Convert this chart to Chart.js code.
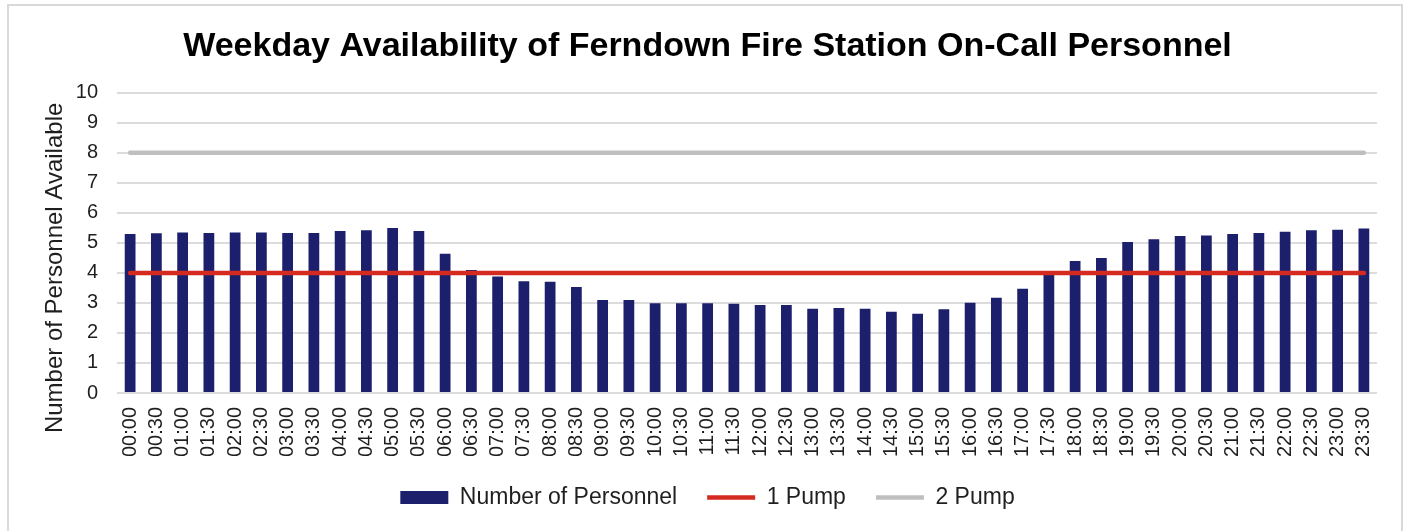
<!DOCTYPE html>
<html>
<head>
<meta charset="utf-8">
<script src="https://cdn.jsdelivr.net/npm/chart.js@4"></script>
<style>
html, body { margin: 0; padding: 0; background: #ffffff; }
#wrap { position: relative; width: 1408px; height: 531px; overflow: hidden; background: #ffffff; }
#frame { position: absolute; left: 7px; top: 4px; width: 1392px; height: 580px; border: 2px solid #D9D9D9; pointer-events: none; }
canvas { position: absolute; left: 0; top: 0; }
</style>
</head>
<body>
<div id="wrap"><canvas id="c" width="1408" height="531"></canvas><div id="frame"></div></div>
<script>
const chartTitle = 'Weekday Availability of Ferndown Fire Station On-Call Personnel';
const yAxisTitle = 'Number of Personnel Available';
const seriesNames = ['Number of Personnel', '1 Pump', '2 Pump'];

const timeLabels = ['00:00','00:30','01:00','01:30','02:00','02:30','03:00','03:30','04:00','04:30','05:00','05:30',
  '06:00','06:30','07:00','07:30','08:00','08:30','09:00','09:30','10:00','10:30','11:00','11:30',
  '12:00','12:30','13:00','13:30','14:00','14:30','15:00','15:30','16:00','16:30','17:00','17:30',
  '18:00','18:30','19:00','19:30','20:00','20:30','21:00','21:30','22:00','22:30','23:00','23:30'];

const personnel = [5.30,5.32,5.35,5.33,5.35,5.35,5.33,5.33,5.40,5.42,5.50,5.40,
  4.64,4.10,3.88,3.72,3.71,3.53,3.10,3.10,2.99,2.99,2.99,2.97,
  2.93,2.93,2.81,2.83,2.81,2.71,2.64,2.79,3.01,3.17,3.47,3.97,
  4.40,4.50,5.03,5.12,5.23,5.25,5.30,5.33,5.37,5.42,5.44,5.48];

const onePump = [4,4,4,4,4,4,4,4,4,4,4,4,4,4,4,4,4,4,4,4,4,4,4,4,
  4,4,4,4,4,4,4,4,4,4,4,4,4,4,4,4,4,4,4,4,4,4,4,4];
const twoPump = [8,8,8,8,8,8,8,8,8,8,8,8,8,8,8,8,8,8,8,8,8,8,8,8,
  8,8,8,8,8,8,8,8,8,8,8,8,8,8,8,8,8,8,8,8,8,8,8,8];

const yMin = 0, yMax = 10, yStep = 1;

const FONT = '"Liberation Sans", Arial, Helvetica, sans-serif';
const TEXT = '#1F1F1F';

const yTitlePlugin = {
  id: 'yTitle',
  afterDraw(chart) {
    const ctx = chart.ctx;
    const a = chart.chartArea;
    ctx.save();
    ctx.translate(a.left - 62, (a.top + a.bottom) / 2 + 25);
    ctx.rotate(-Math.PI / 2);
    ctx.font = '24px ' + FONT;
    ctx.fillStyle = TEXT;
    ctx.textAlign = 'center';
    ctx.textBaseline = 'middle';
    ctx.fillText(yAxisTitle, 0, 0);
    ctx.restore();
  }
};

new Chart(document.getElementById('c'), {
  type: 'bar',
  data: {
    labels: timeLabels,
    datasets: [
      {
        type: 'bar',
        label: seriesNames[0],
        data: personnel,
        backgroundColor: '#1B1F6C',
        borderWidth: 0,
        barPercentage: 0.41,
        categoryPercentage: 1.0,
        order: 1
      },
      {
        type: 'line',
        label: seriesNames[1],
        data: onePump,
        borderColor: '#D42A20',
        backgroundColor: '#D42A20',
        borderWidth: 4.5,
        borderCapStyle: 'round',
        pointRadius: 0,
        pointHoverRadius: 0,
        fill: false,
        tension: 0,
        order: 0
      },
      {
        type: 'line',
        label: seriesNames[2],
        data: twoPump,
        borderColor: '#BFBFBF',
        backgroundColor: '#BFBFBF',
        borderWidth: 4.5,
        borderCapStyle: 'round',
        pointRadius: 0,
        pointHoverRadius: 0,
        fill: false,
        tension: 0,
        order: 0
      }
    ]
  },
  options: {
    responsive: false,
    animation: false,
    devicePixelRatio: 1,
    layout: { padding: { left: 38, right: 31, top: 0, bottom: 12 } },
    plugins: {
      title: {
        display: true,
        text: chartTitle,
        color: '#000000',
        font: { family: FONT, size: 34, weight: 'bold' },
        padding: { top: 26, bottom: 26 }
      },
      legend: {
        display: true,
        position: 'bottom',
        labels: {
          usePointStyle: true,
          pointStyleWidth: 48,
          boxHeight: 13,
          padding: 30,
          color: TEXT,
          font: { family: FONT, size: 23 },
          generateLabels(chart) {
            const items = Chart.defaults.plugins.legend.labels.generateLabels(chart);
            items.sort((a, b) => a.datasetIndex - b.datasetIndex);
            items.forEach(it => { it.pointStyle = it.datasetIndex === 0 ? 'rect' : 'line'; });
            return items;
          }
        }
      },
      tooltip: { enabled: false }
    },
    scales: {
      x: {
        grid: { display: false, drawTicks: false },
        border: { display: false },
        ticks: {
          autoSkip: false,
          minRotation: 90,
          maxRotation: 90,
          padding: 14,
          color: TEXT,
          font: { family: FONT, size: 20 }
        },
        afterFit(scale) { scale.height = 63; }
      },
      y: {
        min: yMin,
        max: yMax,
        grid: { color: '#DCDCDC', lineWidth: 2, drawTicks: false },
        border: { display: false },
        ticks: {
          stepSize: yStep,
          padding: 19,
          color: TEXT,
          font: { family: FONT, size: 20 }
        },
        afterFit(scale) { scale.width = 79; }
      }
    }
  },
  plugins: [yTitlePlugin]
});
</script>
</body>
</html>
